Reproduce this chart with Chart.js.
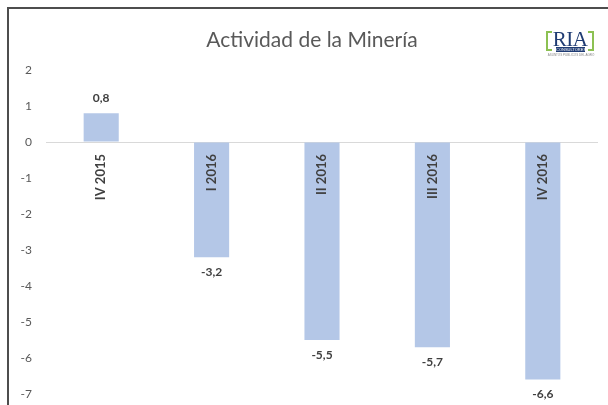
<!DOCTYPE html>
<html>
<head>
<meta charset="utf-8">
<script src="https://cdn.jsdelivr.net/npm/chart.js@4/dist/chart.umd.min.js"></script>
<style>
  html, body { margin: 0; padding: 0; background: #fff; overflow: hidden; }
  #wrap { position: relative; width: 608px; height: 405px; overflow: hidden; }
  #chart { display: block; }
  #frame { position: absolute; left: 7px; top: 7px; width: 599px; height: 396px;
           border-left: 2px solid #4d4d4d; border-top: 2px solid #4d4d4d; pointer-events: none; }
  .logo { position: absolute; left: 546px; top: 28px; width: 48px; height: 34px; font-family: "Liberation Serif", serif; }
  .logo .bl, .logo .br { position: absolute; top: 3px; width: 4px; height: 16px; border: 2px solid #8cc152; }
  .logo .bl { left: 0; border-right: none; }
  .logo .br { right: 0; border-left: none; }
  .logo .ria { position: absolute; left: 0; width: 48px; top: 0; text-align: center; font-size: 21px; line-height: 22px; color: #1f3b73; letter-spacing: -0.5px; }
  .logo .band { position: absolute; left: 10px; top: 19px; width: 29px; height: 5px; background: #1f3b73; color: #fff; font: 4px/5px "Liberation Sans", sans-serif; text-align: center; overflow: hidden; }
  .logo .sub { position: absolute; left: -2px; width: 54px; top: 25px; color: #888; font: 3px/4px "Liberation Sans", sans-serif; text-align: center; white-space: nowrap; overflow: hidden; }
</style>
</head>
<body>
<div id="wrap">
  <canvas id="chart" width="608" height="405"></canvas>
  <div id="frame"></div>
  <div class="logo">
    <div class="bl"></div><div class="br"></div>
    <div class="ria">RIA</div>
    <div class="band">CONSULTORES</div>
    <div class="sub">ASUNTOS PÚBLICOS DEL AGRO</div>
  </div>
</div>
<script>
const chartTitle = 'Actividad de la Minería';
const categories = ['IV 2015', 'I 2016', 'II 2016', 'III 2016', 'IV 2016'];
const values = [0.8, -3.2, -5.5, -5.7, -6.6];
const yMin = -7;
const yMax = 2;

const FONT = 'Lato, "Open Sans", sans-serif';

// title centred on the framed area, drawn on the canvas
const titlePlugin = {
  id: 'titleText',
  afterDraw(chart) {
    const ctx = chart.ctx;
    ctx.save();
    ctx.font = '21px ' + FONT;
    ctx.fillStyle = '#595959';
    ctx.textAlign = 'center';
    ctx.textBaseline = 'middle';
    ctx.fillText(chartTitle, 312, 40);
    ctx.restore();
  }
};

// value labels above/below the bars, category names rotated under the zero line
const barLabels = {
  id: 'barLabels',
  afterDatasetsDraw(chart) {
    const ctx = chart.ctx;
    const meta = chart.getDatasetMeta(0);
    const zeroY = chart.scales.y.getPixelForValue(0);
    ctx.save();
    ctx.fillStyle = '#404040';
    ctx.textBaseline = 'middle';

    ctx.font = 'bold 12px ' + FONT;
    ctx.textAlign = 'center';
    meta.data.forEach((bar, i) => {
      const v = values[i];
      const y = v >= 0 ? bar.y - 15 : bar.y + 15;
      ctx.fillText(v.toFixed(1).replace('.', ','), bar.x, y);
    });

    ctx.font = 'bold 13px ' + FONT;
    ctx.textAlign = 'right';
    categories.forEach((c, i) => {
      const x = chart.scales.x.getPixelForValue(i);
      ctx.save();
      ctx.translate(x, zeroY + 12);
      ctx.rotate(-Math.PI / 2);
      ctx.fillText(c, 0, 0);
      ctx.restore();
    });
    ctx.restore();
  }
};

new Chart(document.getElementById('chart'), {
  type: 'bar',
  data: {
    labels: categories,
    datasets: [{
      data: values,
      backgroundColor: '#b4c7e7',
      borderWidth: 0,
      barPercentage: 1,
      categoryPercentage: 0.318
    }]
  },
  options: {
    responsive: false,
    animation: false,
    layout: { padding: { top: 70, bottom: 11, left: 0, right: 10 } },
    plugins: {
      legend: { display: false },
      title: { display: false },
      tooltip: { enabled: false }
    },
    scales: {
      x: {
        display: false
      },
      y: {
        min: yMin,
        max: yMax,
        afterFit(scale) { scale.width = 46; },
        grid: {
          drawTicks: true,
          tickLength: 11,
          tickColor: 'rgba(0,0,0,0)',
          // only the zero line is visible
          color: (c) => c.tick && c.tick.value === 0 ? '#d9d9d9' : 'rgba(0,0,0,0)'
        },
        border: { display: false },
        ticks: {
          stepSize: 1,
          padding: 3,
          color: '#595959',
          font: { family: FONT, size: 12 }
        }
      }
    }
  },
  plugins: [titlePlugin, barLabels]
});
</script>
</body>
</html>
